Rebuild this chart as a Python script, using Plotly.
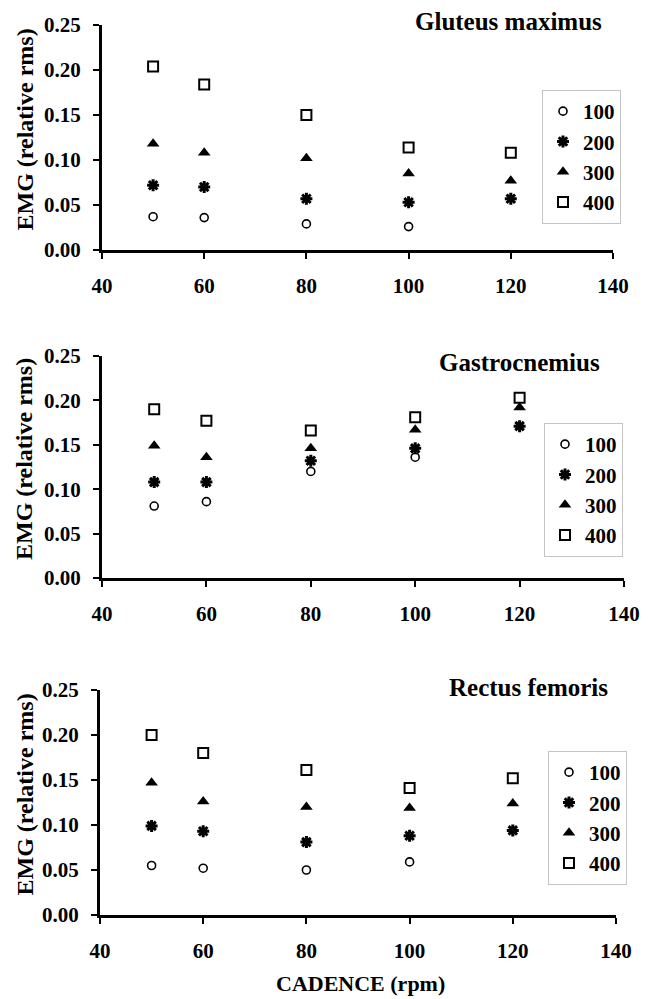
import plotly.graph_objects as go

cadence = [50, 60, 80, 100, 120]
loads = ["100", "200", "300", "400"]

# Gluteus maximus
glut_100 = [0.037, 0.036, 0.029, 0.026, None]
glut_200 = [0.072, 0.070, 0.057, 0.053, 0.057]
glut_300 = [0.118, 0.108, 0.102, 0.085, 0.077]
glut_400 = [0.204, 0.184, 0.150, 0.114, 0.108]

# Gastrocnemius
gast_100 = [0.081, 0.086, 0.120, 0.136, None]
gast_200 = [0.108, 0.108, 0.132, 0.146, 0.171]
gast_300 = [0.149, 0.136, 0.146, 0.167, 0.192]
gast_400 = [0.190, 0.177, 0.166, 0.181, 0.203]

# Rectus femoris
rect_100 = [0.055, 0.052, 0.050, 0.059, None]
rect_200 = [0.099, 0.093, 0.081, 0.088, 0.094]
rect_300 = [0.147, 0.126, 0.120, 0.119, 0.124]
rect_400 = [0.200, 0.180, 0.161, 0.141, 0.152]

titles = ["Gluteus maximus", "Gastrocnemius", "Rectus femoris"]
panels = [
    [glut_100, glut_200, glut_300, glut_400],
    [gast_100, gast_200, gast_300, gast_400],
    [rect_100, rect_200, rect_300, rect_400],
]

W, H = 650, 999
FONT = "Liberation Serif, Times New Roman, serif"


def px(x):
    return x / W


def py(y):
    return 1 - y / H


# page-pixel geometry of each panel: (x_left, x_right, y_top, y_bottom)
geom = [
    (102, 613, 25, 250),
    (102, 624, 356, 578),
    (100, 616, 690, 915),
]
legend_pos = [(542, 90), (544, 423), (548, 751)]
title_pos = [(604, 22), (602, 362), (610, 687)]

symbols = [
    dict(symbol="circle-open", size=8, line=dict(width=1.6, color="black")),
    dict(symbol="asterisk-open", size=10, line=dict(width=3, color="black")),
    dict(symbol="triangle-up", size=11, line=dict(width=0, color="black")),
    dict(symbol="square-open", size=10, line=dict(width=2, color="black")),
]

fig = go.Figure()
annotations = []
layout = {}
for i, (series, title) in enumerate(zip(panels, titles)):
    xl, xr, yt, yb = geom[i]
    xa = "x" if i == 0 else f"x{i+1}"
    ya = "y" if i == 0 else f"y{i+1}"
    lg = "legend" if i == 0 else f"legend{i+1}"
    for j, vals in enumerate(series):
        m = dict(color="black", **symbols[j])
        fig.add_trace(go.Scatter(
            x=cadence, y=vals, mode="markers", name=loads[j],
            marker=m, xaxis=xa, yaxis=ya, legend=lg,
        ))
    axkey = "xaxis" if i == 0 else f"xaxis{i+1}"
    aykey = "yaxis" if i == 0 else f"yaxis{i+1}"
    layout[axkey] = dict(
        domain=[px(xl), px(xr)], range=[40, 140], dtick=20, tick0=40,
        showline=True, linewidth=3, linecolor="black", ticks="outside",
        ticklen=6, tickwidth=2, tickcolor="black", showgrid=False,
        zeroline=False, anchor=ya, ticklabelstandoff=9, automargin=False,
        tickfont=dict(family=FONT, size=21, color="black", weight="bold"),
    )
    layout[aykey] = dict(
        domain=[py(yb), py(yt)], range=[0, 0.25], dtick=0.05,
        tickformat=".2f", showline=True, linewidth=3, linecolor="black",
        ticks="outside", ticklen=6, tickwidth=2, tickcolor="black",
        showgrid=False, zeroline=False, anchor=xa, ticklabelstandoff=8,
        automargin=False,
        tickfont=dict(family=FONT, size=21, color="black", weight="bold"),
    )
    lx, ly = legend_pos[i]
    layout[lg] = dict(
        x=px(lx), y=py(ly), xanchor="left", yanchor="top",
        bordercolor="#c4c4c4", borderwidth=1, bgcolor="white",
        font=dict(family=FONT, size=21, color="black", weight="bold"),
        tracegroupgap=0, itemwidth=30,
    )
    tx, ty = title_pos[i]
    annotations.append(dict(
        text=f"<b>{title}</b>", x=px(tx), y=py(ty), xref="paper",
        yref="paper", xanchor="right", yanchor="middle", showarrow=False,
        font=dict(family=FONT, size=25, color="black"),
    ))
    annotations.append(dict(
        text="<b>EMG (relative rms)</b>", x=px(24), y=py((yt + yb) / 2 - 8),
        xref="paper", yref="paper", xanchor="center", yanchor="middle",
        textangle=-90, showarrow=False,
        font=dict(family=FONT, size=24, color="black"),
    ))

annotations.append(dict(
    text="<b>CADENCE (rpm)</b>", x=px(360), y=py(983), xref="paper",
    yref="paper", xanchor="center", yanchor="middle", showarrow=False,
    borderpad=0, font=dict(family=FONT, size=22, color="black"),
))

fig.update_layout(
    width=W, height=H, margin=dict(l=0, r=0, t=0, b=0, autoexpand=False),
    paper_bgcolor="white", plot_bgcolor="white",
    annotations=annotations, **layout,
)

post = (
    "document.body.style.margin='0';"
    "document.body.style.padding='0';"
    "document.documentElement.style.overflow='hidden';"
    "document.body.style.overflow='hidden';"
)
fig.write_html("out.html", post_script=post,
               config={"displayModeBar": False, "staticPlot": True})
